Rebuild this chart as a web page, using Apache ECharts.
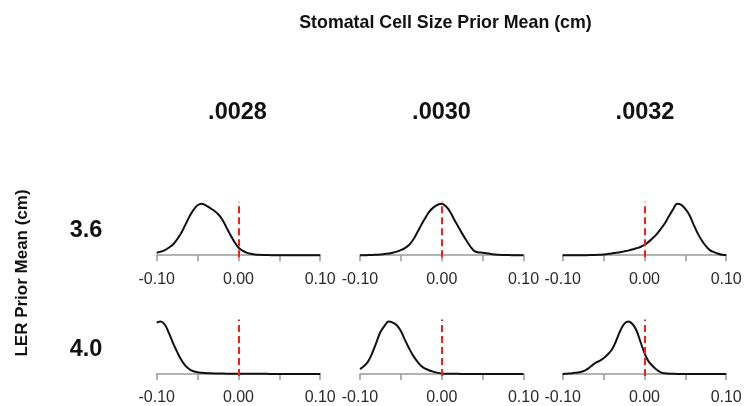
<!DOCTYPE html>
<html>
<head>
<meta charset="utf-8">
<script src="https://cdn.jsdelivr.net/npm/echarts@6/dist/echarts.min.js"></script>
<style>
html,body{margin:0;padding:0;background:#fff;}
#chart{width:748px;height:406px;}
</style>
</head>
<body>
<div id="chart"></div>
<script>
// x grid of the density estimates (difference in cm)
const xs = [-0.100,-0.095,-0.090,-0.085,-0.080,-0.075,-0.070,-0.065,-0.060,-0.055,-0.050,-0.045,-0.040,-0.035,-0.030,-0.025,-0.020,-0.015,-0.010,-0.005,0.000,0.005,0.010,0.015,0.020,0.025,0.030,0.035,0.040,0.045,0.050,0.055,0.060,0.065,0.070,0.075,0.080,0.085,0.090,0.095,0.100];

const colLabels = ['.0028', '.0030', '.0032'];
const rowLabels = ['3.6', '4.0'];
const tickLabels = ['-0.10', '0.00', '0.10'];
const refLine = 0;

// relative density (peak = 1) per panel
const ler36_0028 = [0.05,0.07,0.10,0.15,0.21,0.31,0.43,0.59,0.75,0.88,0.97,1.00,0.97,0.92,0.87,0.80,0.70,0.55,0.40,0.26,0.15,0.09,0.05,0.03,0.015,0.008,0.004,0.003,0.002,0.002,0.001,0.001,0.001,0,0,0,0,0,0,0,0];
const ler36_0030 = [0,0,0.003,0.005,0.01,0.015,0.025,0.035,0.05,0.07,0.10,0.14,0.20,0.30,0.44,0.59,0.73,0.85,0.93,0.98,1.00,0.95,0.85,0.70,0.56,0.42,0.29,0.17,0.08,0.055,0.05,0.04,0.025,0.015,0.008,0.005,0.003,0.002,0.001,0,0];
const ler36_0032 = [0,0,0,0,0,0.001,0.002,0.003,0.005,0.01,0.015,0.025,0.035,0.05,0.06,0.075,0.09,0.11,0.135,0.16,0.20,0.26,0.33,0.41,0.51,0.62,0.76,0.89,1.00,0.98,0.90,0.78,0.60,0.43,0.29,0.18,0.10,0.06,0.03,0.01,0.005];
const ler40_0028 = [0.98,1.00,0.94,0.78,0.59,0.42,0.27,0.16,0.09,0.05,0.03,0.022,0.017,0.013,0.01,0.008,0.006,0.005,0.004,0.003,0.002,0.002,0.002,0.001,0.001,0.001,0.001,0.001,0,0,0,0,0,0,0,0,0,0,0,0,0];
const ler40_0030 = [0.09,0.15,0.24,0.40,0.60,0.80,0.92,1.00,0.98,0.93,0.82,0.65,0.49,0.35,0.24,0.15,0.10,0.065,0.04,0.02,0.008,0.004,0.002,0.001,0.001,0,0,0,0,0,0,0,0,0,0,0,0,0,0,0,0];
const ler40_0032 = [0,0.005,0.01,0.02,0.03,0.05,0.09,0.15,0.21,0.25,0.30,0.37,0.46,0.62,0.81,0.95,1.00,0.96,0.84,0.62,0.40,0.24,0.15,0.08,0.03,0.012,0.005,0.002,0,0,0,0,0,0,0,0,0,0,0,0,0];

const panels = [
  [ler36_0028, ler36_0030, ler36_0032],
  [ler40_0028, ler40_0030, ler40_0032]
];

const gridLefts = [156.7, 360, 562.7];
const gridWidth = 163.5;
const gridTops = [201.7, 319.5];
const gridHeights = [55.6, 56.5];

const grids = [], xAxes = [], yAxes = [], series = [];
let idx = 0;
for (let r = 0; r < 2; r++) {
  for (let c = 0; c < 3; c++) {
    grids.push({left: gridLefts[c], top: gridTops[r], width: gridWidth, height: gridHeights[r], containLabel: false});
    xAxes.push({
      gridIndex: idx, type: 'value', min: -0.1, max: 0.1, interval: 0.05,
      axisLine: {show: true, lineStyle: {color: '#9a9a9a', width: 1.5}},
      axisTick: {show: true, length: 6, lineStyle: {color: '#9a9a9a', width: 1.5}},
      splitLine: {show: false},
      axisLabel: {
        show: true, margin: 14, color: '#2a2a2a', fontSize: 16,
        fontFamily: 'Liberation Sans, Arial, sans-serif',
        showMinLabel: true, showMaxLabel: true,
        formatter: function (v) {
          if (Math.abs(v + 0.1) < 1e-9) return tickLabels[0];
          if (Math.abs(v) < 1e-9) return tickLabels[1];
          if (Math.abs(v - 0.1) < 1e-9) return tickLabels[2];
          return '';
        }
      }
    });
    yAxes.push({gridIndex: idx, type: 'value', min: -0.04, max: 1.04, show: false, splitLine: {show: false}});
    const vals = panels[r][c];
    series.push({
      type: 'line', xAxisIndex: idx, yAxisIndex: idx,
      data: xs.map((x, i) => [x, vals[i]]),
      smooth: 0.4, showSymbol: false, symbol: 'none',
      lineStyle: {color: '#111', width: 2},
      z: 3,
      markLine: {
        silent: true, symbol: ['none', 'none'], label: {show: false},
        lineStyle: {color: '#ff1a1a', type: [7, 4], width: 2},
        data: [{xAxis: refLine}],
        z: 4
      }
    });
    idx++;
  }
}

const textFont = 'Liberation Sans, Arial, sans-serif';
const graphics = [
  {type: 'text', x: 445.5, y: 23, style: {text: 'Stomatal Cell Size Prior Mean (cm)', font: 'bold 17.8px ' + textFont, fill: '#111', textAlign: 'center', textVerticalAlign: 'middle'}},
  {type: 'text', x: 22.5, y: 273, rotation: Math.PI / 2, style: {text: 'LER Prior Mean (cm)', font: 'bold 17px ' + textFont, fill: '#111', textAlign: 'center', textVerticalAlign: 'middle'}}
];
const colCenters = [237.5, 441.5, 645];
colLabels.forEach((t, i) => graphics.push({type: 'text', x: colCenters[i], y: 113, style: {text: t, font: 'bold 23.5px ' + textFont, fill: '#111', textAlign: 'center', textVerticalAlign: 'middle'}}));
const rowCenters = [231, 350];
rowLabels.forEach((t, i) => graphics.push({type: 'text', x: 86, y: rowCenters[i], style: {text: t, font: 'bold 23.5px ' + textFont, fill: '#111', textAlign: 'center', textVerticalAlign: 'middle'}}));

const chart = echarts.init(document.getElementById('chart'), null, {renderer: 'canvas'});
chart.setOption({
  animation: false,
  backgroundColor: '#fff',
  grid: grids, xAxis: xAxes, yAxis: yAxes, series: series,
  graphic: graphics
});
</script>
</body>
</html>
